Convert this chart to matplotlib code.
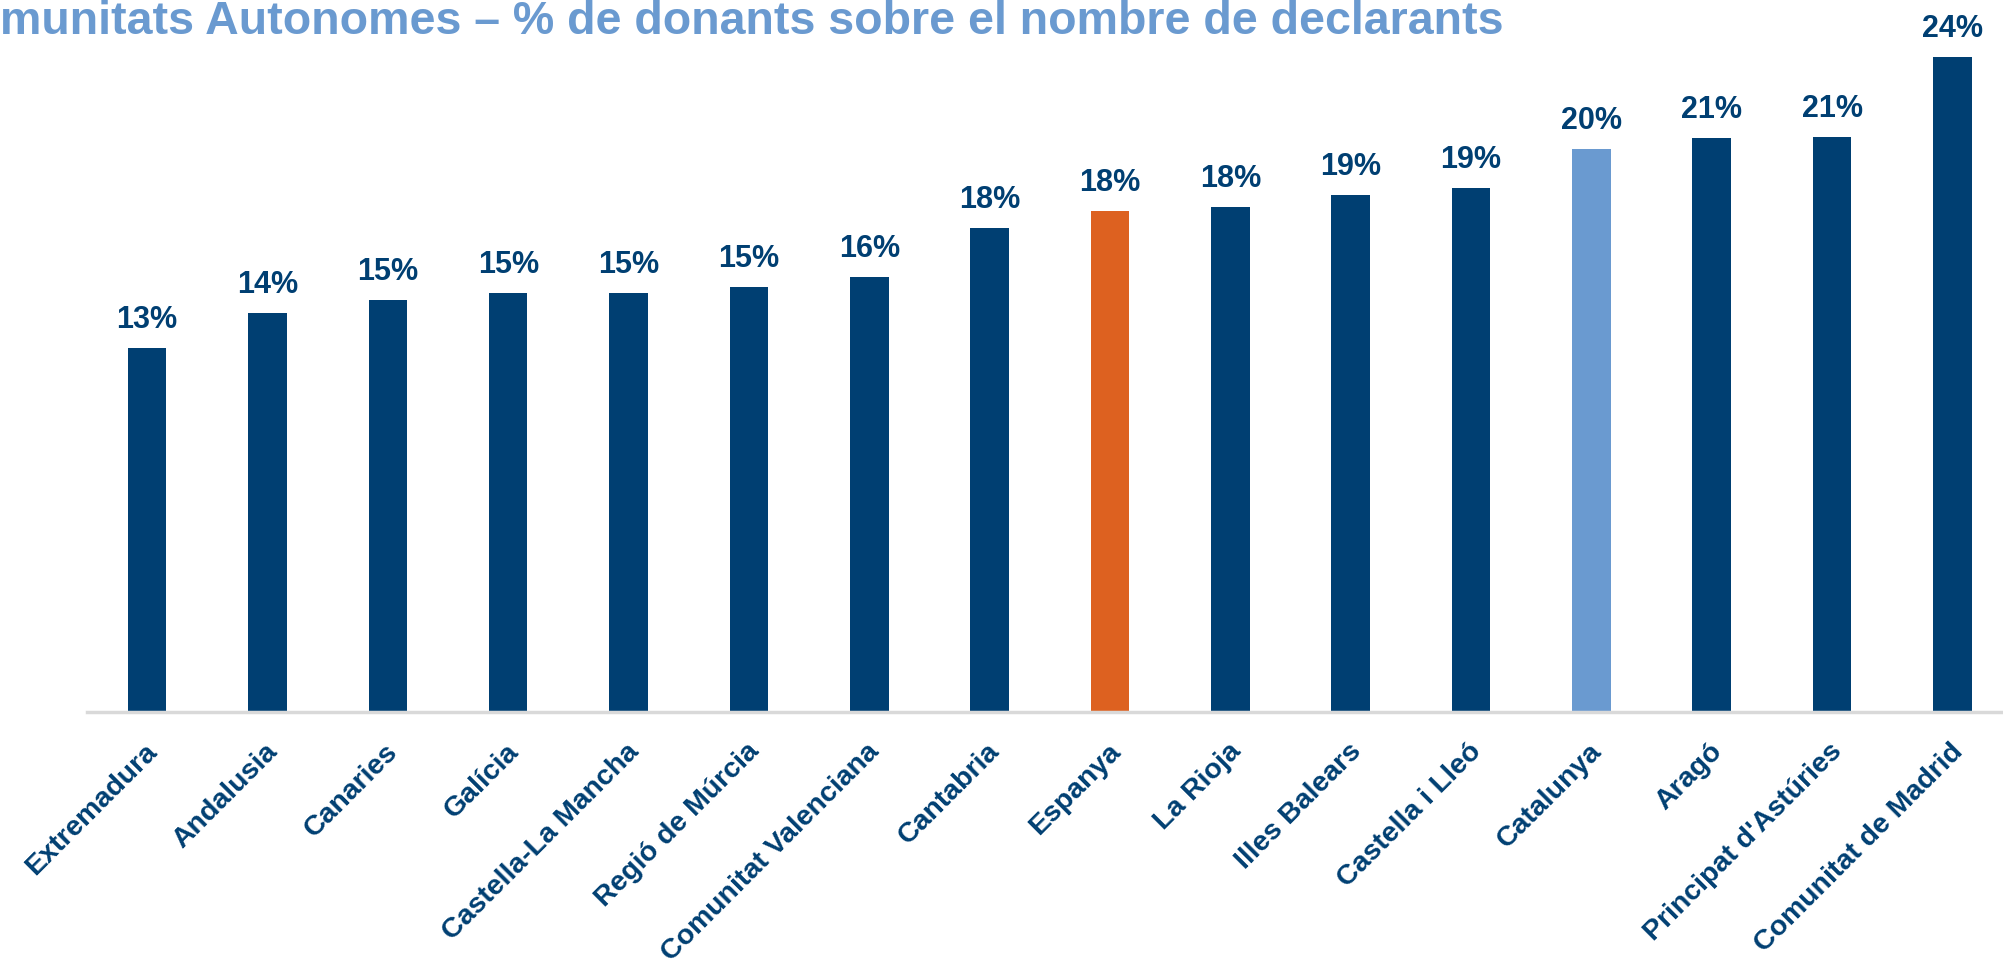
import matplotlib.pyplot as plt

# data
regions = ["Extremadura", "Andalusia", "Canaries", "Galícia", "Castella-La Mancha",
           "Regió de Múrcia", "Comunitat Valenciana", "Cantabria", "Espanya", "La Rioja",
           "Illes Balears", "Castella i Lleó", "Catalunya", "Aragó",
           "Principat d'Astúries", "Comunitat de Madrid"]
pct = [13.2, 14.47, 14.94, 15.19, 15.19, 15.41, 15.77, 17.55, 18.17, 18.31,
       18.75, 19.0, 20.41, 20.81, 20.85, 23.75]
labels = ["13%", "14%", "15%", "15%", "15%", "15%", "16%", "18%", "18%", "18%",
          "19%", "19%", "20%", "21%", "21%", "24%"]
title = "munitats Autonomes – % de donants sobre el nombre de declarants"

navy = "#003f72"
orange = "#dd6120"
light = "#6a9ad0"
colors = [navy] * len(regions)
colors[regions.index("Espanya")] = orange
colors[regions.index("Catalunya")] = light

plt.rcParams['font.family'] = ["Liberation Sans", "DejaVu Sans"]

fig = plt.figure(figsize=(20.03, 9.6), dpi=100)
ax = fig.add_axes([87 / 2003, 248 / 960, 1 - 87 / 2003, 712 / 960])
x = list(range(len(regions)))
ax.bar(x, pct, width=0.32, color=colors, zorder=2)
ax.set_xlim(-0.5, 15.42)
ax.set_ylim(0, 25.82)

for s in ["top", "right", "left"]:
    ax.spines[s].set_visible(False)
ax.spines["bottom"].set_color("#d9d9d9")
ax.spines["bottom"].set_linewidth(2.5)
ax.set_yticks([])
ax.set_xticks([])

for i, (v, t) in enumerate(zip(pct, labels)):
    ax.annotate(t, (i, v), xytext=(0, 14.5), textcoords="offset points",
                ha="center", va="baseline", fontsize=22, fontweight="bold", color=navy)
    ax.annotate(regions[i], (i, 0), xytext=(-2, -19), textcoords="offset points",
                ha="right", va="top", rotation=45, rotation_mode="anchor",
                fontsize=20.5, fontweight="bold", color=navy,
                annotation_clip=False)

fig.text(0, 1 - 34 / 960, title,
         fontsize=33.5, fontweight="bold", color=light, ha="left", va="baseline")

fig.savefig("out.png", dpi=100)
